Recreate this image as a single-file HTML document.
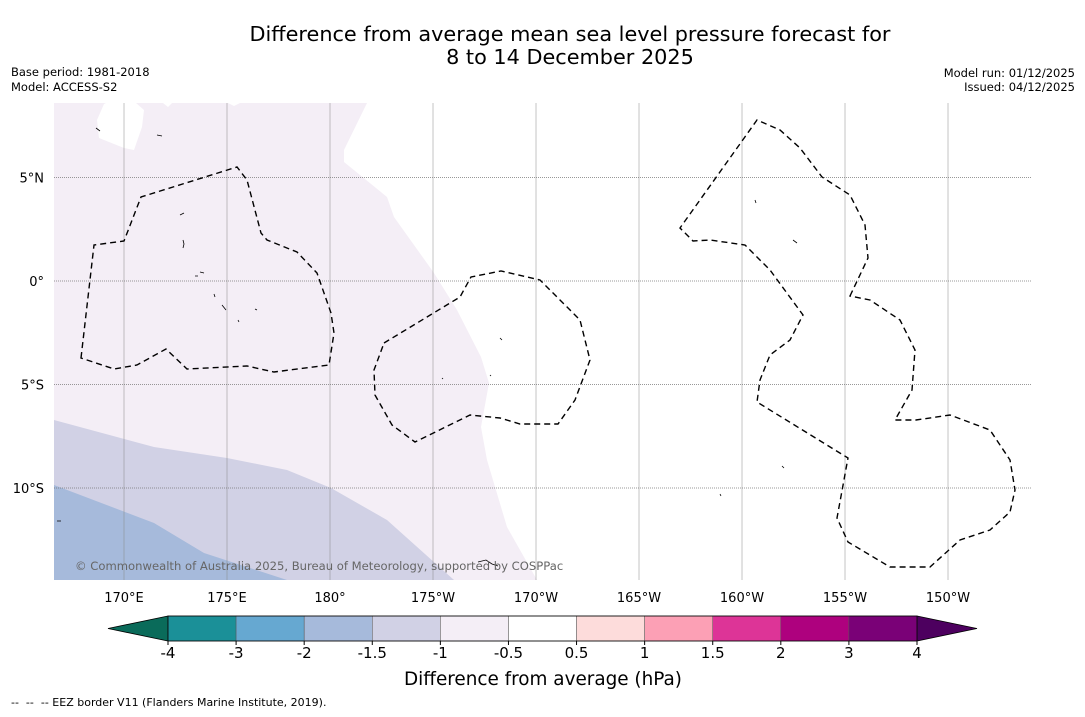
<!DOCTYPE html>
<html><head><meta charset="utf-8"><style>
body{margin:0;background:#fff;width:1085px;height:713px;overflow:hidden;font-family:"DejaVu Sans","Liberation Sans",sans-serif;}
</style></head><body>
<svg width="1085" height="713" viewBox="0 0 1085 713" xmlns="http://www.w3.org/2000/svg">
<rect width="1085" height="713" fill="#fff"/>
<text x="570" y="41" text-anchor="middle" font-size="20.8">Difference from average mean sea level pressure forecast for</text>
<text x="570" y="64" text-anchor="middle" font-size="20.8">8 to 14 December 2025</text>
<text x="11" y="76" font-size="11.5">Base period: 1981-2018</text>
<text x="11" y="91" font-size="11.5">Model: ACCESS-S2</text>
<text x="1075" y="77" font-size="11.5" text-anchor="end">Model run: 01/12/2025</text>
<text x="1075" y="91" font-size="11.5" text-anchor="end">Issued: 04/12/2025</text>
<defs><clipPath id="mapclip"><rect x="54" y="103" width="977" height="477"/></clipPath></defs>
<g clip-path="url(#mapclip)">
<rect x="54" y="103" width="977" height="477" fill="#fff"/>
<path fill="#f4eef6" d="M54,103 L367,103 L344,150 L344,162 L387,197 L394,217 L434,273 L457,310 L481,357 L489,383 L481,427 L487,460 L507,527 L537,580 L54,580 Z"/>
<path fill="#fff" d="M104,104 L97,120 L99,138 L124,148 L134,150 L142,127 L144,110 L136,103 L106,103 Z M163,103 L172,103 L168,107 Z M228,103 L240,103 L234,106 Z"/>
<path fill="#d1d1e5" d="M54,420 L154,447 L227,458 L287,470 L331,488 L387,520 L454,580 L54,580 Z"/>
<path fill="#a6badb" d="M54,485 L154,523 L204,553 L287,580 L54,580 Z"/>
<g id="grid"></g>
<g fill="none" stroke="#000" stroke-width="1.4" stroke-dasharray="6,4">
<path d="M81,358 L94,245 L124,241 L141,197 L237,167 L247,180 L261,233 L267,240 L297,252 L317,273 L331,313 L334,333 L329,365 L274,372 L247,366 L187,369 L166,349 L137,365 L114,369 Z"/>
<path d="M384,343 L460,297 L471,277 L501,271 L540,280 L580,320 L590,360 L575,400 L558,424 L520,424 L500,418 L470,415 L415,442 L392,425 L375,395 L374,370 Z"/>
<path d="M850,296 L868,258 L865,225 L850,195 L822,177 L800,148 L780,130 L757,120 L680,228 L693,241 L710,240 L745,245 L770,270 L803,315 L790,340 L770,355 L760,380 L757,402 L848,458 L837,518 L848,542 L890,567 L930,567 L960,540 L990,530 L1010,512 L1015,490 L1010,460 L990,430 L950,415 L916,420 L895,420 L912,390 L915,350 L900,320 L870,300 Z"/>
</g>
<g fill="none" stroke="#000" stroke-width="0.8">
<path d="M183,240 l1,4 l-1,4 M200,272 l4,1 M214,294 l1,3 M222,305 l4,5 M255,309 l2,1 M500,338 l2,2 M755,200 l1,3 M793,240 l4,3 M782,466 l2,2 M720,494 l1,2 M478,562 l8,-2 l6,4 l6,2 M57,521 l4,0 M157,135 l5,1 M180,215 l4,-2 M442,378 l1,1 M490,375 l1,1 M96,128 l4,3 M195,276 l3,0 M238,320 l1,2"/>
</g>
<text x="75" y="570" font-size="11.6" fill="#666">© Commonwealth of Australia 2025, Bureau of Meteorology, supported by COSPPac</text>
</g>
<g id="axislabels"></g>
<g id="cbar"></g>
<text x="543" y="685" text-anchor="middle" font-size="18.4">Difference from average (hPa)</text>
<text x="11" y="706" font-size="11" xml:space="preserve">--  --  -- EEZ border V11 (Flanders Marine Institute, 2019).</text>
</svg>
<script>
const lonTicks=[170,175,180,185,190,195,200,205,210];
const lonLabels=["170°E","175°E","180°","175°W","170°W","165°W","160°W","155°W","150°W"];
const latTicks=[5,0,-5,-10];
const latLabels=["5°N","0°","5°S","10°S"];
const cbarColors=["#1b9098","#66a8d1","#a6badb","#d1d1e5","#f4eef6","#ffffff","#fddcdb","#fca0b5","#dd3497","#ae017e","#7a0177"];
const cbarTicks=["-4","-3","-2","-1.5","-1","-0.5","0.5","1","1.5","2","3","4"];
const NS="http://www.w3.org/2000/svg";
const xLon=l=>124+(l-170)*20.6;
const yLat=l=>281-l*20.7;
const grid=document.getElementById('grid'),al=document.getElementById('axislabels');
function mk(t,a,p){const e=document.createElementNS(NS,t);for(const k in a)e.setAttribute(k,a[k]);p.appendChild(e);return e;}
lonTicks.forEach((l,i)=>{const x=xLon(l);
const ln=mk('line',{x1:x,x2:x,y1:103,y2:580,stroke:'#888','stroke-width':0.5},grid);


const t=mk('text',{x:x,y:602,'text-anchor':'middle','font-size':13},al);t.textContent=lonLabels[i];

});
latTicks.forEach((l,i)=>{const y=yLat(l);
const ln=mk('line',{x1:54,x2:1031,y1:y,y2:y,stroke:'#777','stroke-width':0.7,'stroke-dasharray':'1,1'},grid);


const t=mk('text',{x:44,y:y+5,'text-anchor':'end','font-size':13},al);t.textContent=latLabels[i];

});
const cb=document.getElementById('cbar');const x0=168,x1=917,y0=616,h=25,w=(x1-x0)/cbarColors.length;
const lt=mk('path',{d:`M${x0},${y0} L108,${y0+h/2} L${x0},${y0+h} Z`,fill:'#0a6b5a',stroke:'#000','stroke-width':0.8},cb);


const rt=mk('path',{d:`M${x1},${y0} L977,${y0+h/2} L${x1},${y0+h} Z`,fill:'#4d005f',stroke:'#000','stroke-width':0.8},cb);


cbarColors.forEach((c,i)=>{const r=mk('rect',{x:x0+i*w,y:y0,width:w,height:h,fill:c,stroke:'#555','stroke-width':0.5},cb);

});
mk('rect',{x:x0,y:y0,width:x1-x0,height:h,fill:'none',stroke:'#000','stroke-width':0.8},cb);
cbarTicks.forEach((t,i)=>{const x=x0+i*w;mk('line',{x1:x,x2:x,y1:y0+h,y2:y0+h+4,stroke:'#000'},cb);
const e=mk('text',{x:x,y:658,'text-anchor':'middle','font-size':15},cb);e.textContent=t;

});
</script>
</body></html>
